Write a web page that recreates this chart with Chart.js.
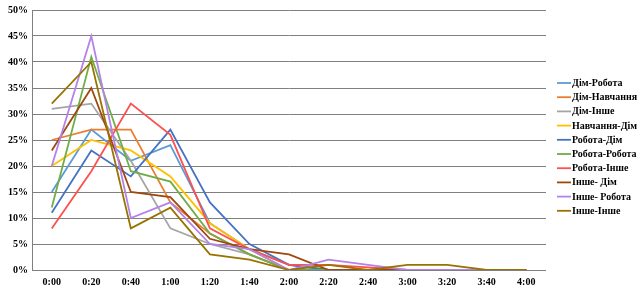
<!DOCTYPE html>
<html>
<head>
<meta charset="utf-8">
<script src="https://cdn.jsdelivr.net/npm/chart.js@4/dist/chart.umd.min.js"></script>
<style>
  html, body { margin: 0; padding: 0; background: #fff; }
  #wrap { width: 640px; height: 289px; position: relative; }
</style>
</head>
<body>
<div id="wrap"><canvas id="c" width="640" height="289"></canvas></div>
<script>
const categories = ["0:00","0:20","0:40","1:00","1:20","1:40","2:00","2:20","2:40","3:00","3:20","3:40","4:00"];
const seriesNames = ["Дім-Робота","Дім-Навчання","Дім-Інше","Навчання-Дім","Робота-Дім","Робота-Робота","Робота-Інше","Інше- Дім","Інше- Робота","Інше-Інше"];
const domRobota     = [15,27,21,24,9,4,1,0,0,0,0,0,0];
const domNavchannia = [25,27,27,13,7,3,0,0,0,0,0,0,0];
const domInshe      = [31,32,21,8,5,3,0,0,0,0,0,0,0];
const navchanniaDom = [20,25,23,18,9,4,0,0,0,0,0,0,0];
const robotaDom     = [11,23,18,27,13,5,1,0,0,0,0,0,0];
const robotaRobota  = [12,41,19,17,7,3,0,0,0,0,0,0,0];
const robotaInshe   = [8,19,32,26,8,4,1,1,0.5,0,0,0,0];
const insheDom      = [23,35,15,14,6,4,3,0,0,0,0,0,0];
const insheRobota   = [20,45,10,13,5,4,0,2,1,0,0,0,0];
const insheInshe    = [32,40,8,12,3,2,0,1,0,1,1,0,0];
const yTickValues   = [0,5,10,15,20,25,30,35,40,45,50];

const seriesValues = [domRobota,domNavchannia,domInshe,navchanniaDom,robotaDom,robotaRobota,robotaInshe,insheDom,insheRobota,insheInshe];
const colors = ["#5B9BD5","#ED7D31","#A5A5A5","#FFC000","#4472C4","#70AD47","#FF5050","#9E480E","#B482E8","#997300"];

const FONT = "'Liberation Serif', 'Times New Roman', serif";

const legendPlugin = {
  id: 'customLegend',
  afterDraw(chart) {
    const ctx = chart.ctx;
    ctx.save();
    ctx.font = "bold 10px " + FONT;
    ctx.textBaseline = 'middle';
    ctx.textAlign = 'left';
    chart.data.datasets.forEach((ds, i) => {
      const y = 83 + i * 14.2;
      ctx.strokeStyle = ds.borderColor;
      ctx.lineWidth = 1.8;
      ctx.beginPath();
      ctx.moveTo(557, y);
      ctx.lineTo(571, y);
      ctx.stroke();
      ctx.fillStyle = '#000';
      ctx.fillText(ds.label, 572, y + 0.5);
    });
    ctx.restore();
  }
};

new Chart(document.getElementById('c'), {
  type: 'line',
  data: {
    labels: categories,
    datasets: seriesNames.map((name, i) => ({
      label: name,
      data: seriesValues[i],
      borderColor: colors[i],
      backgroundColor: colors[i],
      borderWidth: 1.8,
      pointRadius: 0,
      tension: 0,
      fill: false,
      order: seriesNames.length - i
    }))
  },
  options: {
    responsive: false,
    animation: false,
    devicePixelRatio: 1,
    layout: { padding: { top: 10, right: 94, left: 0, bottom: 0 } },
    plugins: {
      legend: { display: false },
      tooltip: { enabled: false }
    },
    scales: {
      x: {
        offset: true,
        grid: { display: false, drawTicks: false },
        border: { display: false },
        ticks: {
          padding: 6,
          color: '#000',
          font: { family: FONT, size: 10, weight: 'bold' },
          maxRotation: 0,
          autoSkip: false
        },
        afterFit(scale) { scale.height = 19; }
      },
      y: {
        min: 0,
        max: 50,
        afterBuildTicks(scale) { scale.ticks = yTickValues.map(v => ({ value: v })); },
        grid: { color: '#7f7f7f', lineWidth: 1, drawTicks: false },
        border: { display: true, color: '#7f7f7f', width: 1 },
        ticks: {
          padding: 4,
          color: '#000',
          font: { family: FONT, size: 10, weight: 'bold' },
          callback: v => v + '%'
        },
        afterFit(scale) { scale.width = 32; }
      }
    }
  },
  plugins: [legendPlugin]
});
</script>
</body>
</html>
